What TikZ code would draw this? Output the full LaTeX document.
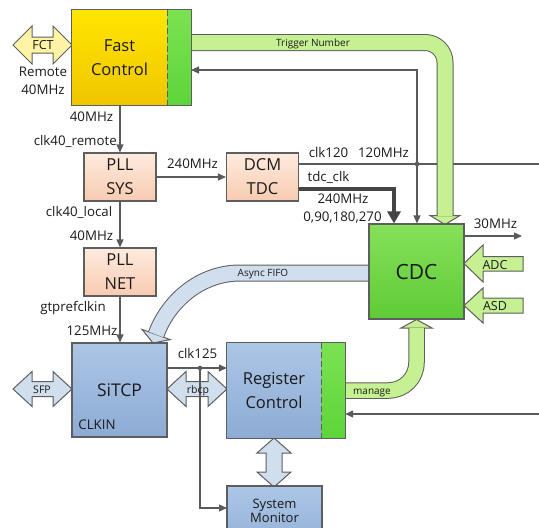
\documentclass[tikz,border=0pt]{standalone}
\usepackage{fontspec}
\setmainfont{Open Sans}
\usetikzlibrary{arrows.meta,calc}
\pgfdeclarelayer{lines}
\pgfdeclarelayer{arrows}
\pgfsetlayers{lines,arrows,main}
\definecolor{edgec}{HTML}{5E5E5E}
\definecolor{linec}{HTML}{5A5A5A}
\definecolor{tdcc}{HTML}{444444}
\definecolor{yelT}{HTML}{FFE600}
\definecolor{yelB}{HTML}{F0C600}
\definecolor{grnT}{HTML}{86E05A}
\definecolor{grnB}{HTML}{5ECC36}
\definecolor{sgrT}{HTML}{7BE252}
\definecolor{sgrB}{HTML}{5FD43A}
\definecolor{peT}{HTML}{FEEBDF}
\definecolor{peB}{HTML}{F8CBB0}
\definecolor{blT}{HTML}{ACC6E6}
\definecolor{blB}{HTML}{8DABD4}
\definecolor{lgr}{HTML}{C5F192}
\definecolor{lbl}{HTML}{D0DEEE}
\definecolor{lye}{HTML}{FFF4A6}
\definecolor{txt}{HTML}{1A1A1A}
\tikzset{
  fillbox/.style={inner sep=0pt, align=center, text=txt},
  bigfont/.style={font=\fontsize{16.5}{24}\selectfont},
  lab/.style={inner sep=0pt, text=txt, font=\fontsize{13.3}{15}\selectfont, text height=9.5pt, text depth=0pt},
  tinylab/.style={inner sep=0pt, text=txt, font=\fontsize{10}{12}\selectfont, text height=7pt, text depth=0pt},
  conn/.style={draw=linec, line width=1.3pt, -{Triangle[length=8pt,width=7pt]}},
  plainln/.style={draw=linec, line width=1.3pt},
  blk/.style={draw=edgec, line width=1pt},
  frame/.style={draw=edgec, line width=1.3pt},
  sepline/.style={draw=edgec, line width=1.3pt, dash pattern=on 6pt off 3pt},
  peach/.style={fillbox, bigfont, draw=edgec, line width=1.1pt, top color=peT, bottom color=peB, minimum width=72pt, minimum height=48pt},
  bluebox/.style={fillbox, top color=blT, bottom color=blB},
  greenside/.style={fillbox, top color=sgrT, bottom color=sgrB, minimum width=24pt, minimum height=95pt},
}
\begin{document}
\begin{tikzpicture}[x=1pt,y=-1pt]
\useasboundingbox (0,0) rectangle (539,528);
% ---------- boxes ----------
\node[fillbox, bigfont, top color=yelT, bottom color=yelB, minimum width=95pt, minimum height=95pt] (fc) at (119.5,57.5) {Fast\\Control};
\node[greenside] (fcg) at (179,57.5) {};
\draw[frame] (fc.north west) rectangle (fcg.south east);
\draw[sepline] (fc.north east) -- (fc.south east);

\node[peach] (pllsys) at (120,177) {PLL\\SYS};
\node[peach] (pllnet) at (120,272) {PLL\\NET};
\node[peach] (dcm) at (262.5,177) {DCM\\TDC};

\node[fillbox, draw=edgec, line width=1.1pt, top color=grnT, bottom color=grnB, minimum width=95pt, minimum height=95pt, font=\fontsize{21}{24}\selectfont] (cdc) at (416.5,271.5) {CDC};

\node[bluebox, draw=edgec, line width=1.1pt, minimum width=95pt, minimum height=94pt, font=\fontsize{17.5}{24}\selectfont] (sitcp) at (119.5,390) {SiTCP};

\node[bluebox, bigfont, minimum width=94pt, minimum height=95pt] (reg) at (274,390.5) {Register\\Control};
\node[greenside] (regg) at (333,390.5) {};
\draw[frame] (reg.north west) rectangle (regg.south east);
\draw[sepline] (reg.north east) -- (reg.south east);

\node[bluebox, draw=edgec, line width=1.1pt, minimum width=95pt, minimum height=74pt] (sysmon) at (274.5,523) {};
\node[fillbox, font=\fontsize{13}{14.5}\selectfont] (smtext) at (274.5,511) {System\\Monitor};

% ---------- coordinates ----------
\coordinate (j120) at (417,164);
\coordinate (out120) at (539,164);
\coordinate (fcin) at (191,70);
\coordinate (out30) at (522,236);
\coordinate (in414) at (539,414);
\coordinate (j125) at (200,368);
\coordinate (smin) at (227,508);
\coordinate (tdcs) at (298,189);
\coordinate (tdcx) at (394,0);
\coordinate (trg0) at (191,42.5);
\coordinate (mg0) at (345,390.5);
\coordinate (af0) at (369,273);

% ---------- thin connectors ----------
\begin{pgfonlayer}{lines}
\draw[conn] (fc.south -| pllsys.north) -- (pllsys.north);
\draw[conn] (pllsys.south) -- (pllnet.north);
\draw[conn] (pllsys.east) -- (dcm.west);
\draw[conn] (pllnet.south) -- (pllnet.south |- sitcp.north);
\draw[plainln] (dcm.east |- j120) -- (out120);
\draw[conn] (j120) -- (j120 |- cdc.north);
\draw[conn] (j120) |- (fcin);
\draw[conn] (cdc.east |- out30) -- (out30);
\draw[conn] (in414) -- (regg.east |- in414);
\draw[conn] (sitcp.east |- j125) -- (reg.west |- j125);
\draw[draw=tdcc, line width=4.5pt, -{Triangle[length=12pt,width=13pt]}] (tdcs) -| (tdcx |- cdc.north);
\fill[tdcc] (tdcs) circle (2.2pt);
\end{pgfonlayer}

% ---------- block arrows ----------
\begin{pgfonlayer}{arrows}
% Trigger Number
\filldraw[fill=lgr, draw=edgec, line width=1pt] (430,215.5) -- (460,215.5) -- (445,224.5) -- cycle;
\draw[edgec, line width=17pt, rounded corners=20pt] (trg0) -- (445,42.5) -- (445,216);
\draw[lgr, line width=15pt, rounded corners=20pt] (trg0) -- (445,42.5) -- (445,216);
% manage
\filldraw[fill=lgr, draw=edgec, line width=1pt] (401,328) -- (432,328) -- (416.5,319.5) -- cycle;
\draw[edgec, line width=16.5pt, rounded corners=28pt] (mg0) -- (416.5,390.5) -- (416.5,328);
\draw[lgr, line width=14.5pt, rounded corners=28pt] (mg0) -- (416.5,390.5) -- (416.5,328);
% Async FIFO
\filldraw[fill=lbl, draw=edgec, line width=1pt] (142,329.4) -- (170.2,339.6) -- (153,343) -- cycle;
\draw[edgec, line width=17pt] (af0) -- (240,273) .. controls (200,273) and (168,301.6) .. (156.1,334.5);
\draw[lbl, line width=15pt] (af0) -- (240,273) .. controls (200,273) and (168,301.6) .. (156.1,334.5);
% ADC, ASD
\filldraw[fill=lgr, draw=edgec, line width=1pt] (464,263.5) -- (483,245) -- (483,256.5) -- (523,256.5) -- (523,271) -- (483,271) -- (483,282) -- cycle;
\filldraw[fill=lgr, draw=edgec, line width=1pt] (464,305.5) -- (483,288) -- (483,298) -- (523,298) -- (523,313) -- (483,313) -- (483,323) -- cycle;
% FCT
\filldraw[fill=lye, draw=edgec, line width=1pt] (13,45) -- (32,26) -- (32,37) -- (53,37) -- (53,26) -- (72,45) -- (53,64) -- (53,53) -- (32,53) -- (32,64) -- cycle;
% SFP
\filldraw[fill=lbl, draw=edgec, line width=1pt] (13,389) -- (32,371.5) -- (32,381.5) -- (53,381.5) -- (53,371.5) -- (72,389) -- (53,406.5) -- (53,396.5) -- (32,396.5) -- (32,406.5) -- cycle;
% rbcp
\filldraw[fill=lbl, draw=edgec, line width=1pt] (167,389) -- (186,371.5) -- (186,381.5) -- (208,381.5) -- (208,371.5) -- (227,389) -- (208,406.5) -- (208,396.5) -- (186,396.5) -- (186,406.5) -- cycle;
% Register <-> System Monitor
\filldraw[fill=lbl, draw=edgec, line width=1pt] (274,438) -- (291,453) -- (282,453) -- (282,472) -- (291,472) -- (274,487) -- (257,472) -- (266,472) -- (266,453) -- (257,453) -- cycle;
\end{pgfonlayer}

% ---------- rbcp branch ----------
\draw[conn] (j125) |- (smin);
\fill[linec] (j125) circle (2.3pt);
\fill[linec] (j120) circle (2.3pt);

% ---------- labels ----------
\node[lab, font=\fontsize{12.5}{14}\selectfont] at (43,45) {FCT};
\node[lab] at (43,72) {Remote};
\node[lab] at (43,90) {40MHz};
\node[lab] at (91.5,117) {40MHz};
\node[lab, anchor=east] at (117,141) {clk40\_remote};
\node[lab] at (79,212) {clk40\_local};
\node[lab] at (91.5,236) {40MHz};
\node[lab] at (192.5,164) {240MHz};
\node[lab] at (73,307) {gtprefclkin};
\node[lab] at (92,331) {125MHz};
\node[lab] at (197.5,354) {clk125};
\node[lab] at (328.5,153) {clk120};
\node[lab] at (383.5,153) {120MHz};
\node[lab] at (328.5,177) {tdc\_clk};
\node[lab] at (343,199) {240MHz};
\node[lab] at (342.5,217) {0,90,180,270};
\node[lab] at (495.5,224) {30MHz};
\node[lab] at (97,425) {CLKIN};
\node[lab, font=\fontsize{12.5}{14}\selectfont] at (495,265) {ADC};
\node[lab, font=\fontsize{12.5}{14}\selectfont] at (495,306) {ASD};
\node[tinylab] at (313,43) {Trigger Number};
\node[tinylab] at (263,273) {Async FIFO};
\node[tinylab] at (372,391) {manage};
\node[tinylab, font=\fontsize{10.5}{12}\selectfont] at (42,389.5) {SFP};
\node[tinylab, font=\fontsize{10.5}{12}\selectfont] at (198,389.5) {rbcp};
\end{tikzpicture}
\end{document}
